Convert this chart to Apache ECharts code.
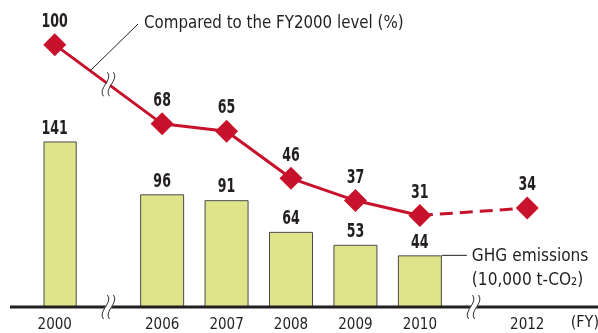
<!DOCTYPE html>
<html>
<head>
<meta charset="utf-8">
<script src="https://cdn.jsdelivr.net/npm/echarts@6/dist/echarts.min.js"></script>
<style>
  html, body { margin: 0; padding: 0; background: #fff; }
  #chart { width: 598px; height: 333px; }
</style>
</head>
<body>
<div id="chart"></div>
<script>
// Fiscal years and values
const years = ['2000', '2006', '2007', '2008', '2009', '2010', '2012'];
const ghgEmissions = [141, 96, 91, 64, 53, 44, null];      // 10,000 t-CO2
const ratioActual = [100, 68, 65, 46, 37, 31, null];       // % of FY2000
const ratioTarget = [null, null, null, null, null, 31, 34]; // % of FY2000 (plan)

// Horizontal layout: each year sits on a slot; the breaks take wider gaps
const yearSlots = [0, 5, 8, 11, 14, 17, 22];
const slotCount = 23;

const FONT = "'Liberation Sans Narrow','DejaVu Sans Condensed',sans-serif";
const INK = '#231f20';
const RED = '#c8122c';
const BAR = '#dfe48b';

function spread(values) {
  const out = new Array(slotCount).fill(null);
  values.forEach((v, i) => { out[yearSlots[i]] = v; });
  return out;
}
function pairs(values) {
  const out = [];
  values.forEach((v, i) => { if (v !== null) out.push([yearSlots[i], v]); });
  return out;
}

const categories = spread(years).map(v => v === null ? '' : v);
const barData = spread(ghgEmissions);
const actualData = spread(ratioActual);
const targetData = spread(ratioTarget).map((v, s) =>
  // 2010 is already marked by the actual series
  (v !== null && s === yearSlots[5]) ? { value: v, symbol: 'none' } : v
);

// Value labels are drawn in a narrowed bold face
function valueLabels(dy) {
  return function (params, api) {
    const v = api.value(1);
    const pt = api.coord([api.value(0), v]);
    return {
      type: 'text',
      x: pt[0],
      y: pt[1] + dy,
      scaleX: 0.7,
      style: {
        text: String(v),
        fontFamily: FONT,
        fontWeight: 'bold',
        fontSize: 20,
        fill: INK,
        align: 'center',
        verticalAlign: 'middle'
      }
    };
  };
}

const chart = echarts.init(document.getElementById('chart'), null, { renderer: 'canvas' });

chart.setOption({
  animation: false,
  backgroundColor: '#fff',
  grid: { left: 44, right: 60, top: 10, bottom: 23 },
  xAxis: {
    type: 'category',
    data: categories,
    boundaryGap: true,
    axisLine: { show: false },
    axisTick: { show: false },
    axisLabel: {
      interval: 0,
      margin: 11,
      fontFamily: FONT,
      fontSize: 15,
      color: INK
    }
  },
  yAxis: [
    { type: 'value', min: 0, max: 253, show: false, splitLine: { show: false } },
    { type: 'value', min: -6, max: 114, show: false, splitLine: { show: false } }
  ],
  series: [
    {
      name: 'GHG emissions',
      type: 'bar',
      yAxisIndex: 0,
      data: barData,
      barWidth: 44,
      itemStyle: { color: BAR, borderColor: '#4a4a4a', borderWidth: 1 },
      z: 2
    },
    {
      name: 'Compared to the FY2000 level',
      type: 'line',
      yAxisIndex: 1,
      data: actualData,
      connectNulls: true,
      symbol: 'diamond',
      symbolSize: 23,
      showAllSymbol: true,
      lineStyle: { color: RED, width: 3 },
      itemStyle: { color: RED },
      z: 4
    },
    {
      name: 'Compared to the FY2000 level (plan)',
      type: 'line',
      yAxisIndex: 1,
      data: targetData,
      connectNulls: true,
      symbol: 'diamond',
      symbolSize: 23,
      showAllSymbol: true,
      lineStyle: { color: RED, width: 3, type: [13, 7] },
      itemStyle: { color: RED },
      z: 3
    },
    {
      name: 'GHG emissions labels',
      type: 'custom',
      yAxisIndex: 0,
      data: pairs(ghgEmissions),
      renderItem: valueLabels(-13),
      clip: false,
      silent: true,
      z: 5
    },
    {
      name: 'Ratio labels',
      type: 'custom',
      yAxisIndex: 1,
      data: pairs(ratioActual).concat(pairs(ratioTarget).slice(1)),
      renderItem: valueLabels(-23),
      clip: false,
      silent: true,
      z: 5
    }
  ]
});

// Decorations: baseline, axis breaks, leader lines and captions
function px(seriesIndex, slot, value) {
  return chart.convertToPixel({ seriesIndex: seriesIndex }, [slot, value]);
}

function breakMark(x, y, h, band) {
  const half = h / 2;
  const wave = (cx, stroke, width) => ({
    type: 'bezierCurve',
    shape: {
      x1: cx + 2, y1: y - half,
      cpx1: cx + 8, cpy1: y - half / 3,
      cpx2: cx - 8, cpy2: y + half / 3,
      x2: cx - 2, y2: y + half
    },
    style: { stroke: stroke, lineWidth: width, fill: null },
    z: 100
  });
  return [wave(x, '#fff', band), wave(x - 3, '#333', 1), wave(x + 3, '#333', 1)];
}

const baseY = px(0, 0, 0)[1];
const p2000 = px(1, yearSlots[0], ratioActual[0]);
const p2006 = px(1, yearSlots[1], ratioActual[1]);
const bar2010 = px(0, yearSlots[5], ghgEmissions[5]);
const x2010 = bar2010[0];
const x2012 = px(0, yearSlots[6], 0)[0];

const leftBreakX = (p2000[0] + p2006[0]) / 2;
const rightBreakX = (x2010 + x2012) / 2;
const lineBreakY = (p2000[1] + p2006[1]) / 2;

const t = 0.33;
const leaderEnd = [p2000[0] + (p2006[0] - p2000[0]) * t, p2000[1] + (p2006[1] - p2000[1]) * t];
const titlePos = [144, 23];

const textStyle = (extra) => Object.assign({
  fontFamily: FONT, fontSize: 18, fill: INK
}, extra);

const graphics = [
  {
    type: 'line',
    shape: { x1: 10, y1: baseY, x2: 598, y2: baseY },
    style: { stroke: INK, lineWidth: 3 },
    z: 90
  },
  ...breakMark(leftBreakX, baseY, 24, 6),
  ...breakMark(rightBreakX, baseY, 24, 6),
  ...breakMark(leftBreakX, lineBreakY, 24, 4),
  {
    type: 'line',
    shape: { x1: titlePos[0] - 6, y1: titlePos[1] + 1, x2: leaderEnd[0], y2: leaderEnd[1] },
    style: { stroke: '#222', lineWidth: 1 },
    z: 100
  },
  {
    type: 'text',
    x: titlePos[0], y: titlePos[1],
    scaleX: 0.93,
    style: textStyle({ text: 'Compared to the FY2000 level (%)', verticalAlign: 'middle' }),
    z: 100
  },
  {
    type: 'line',
    shape: { x1: x2010 + 22, y1: bar2010[1], x2: x2010 + 47, y2: bar2010[1] },
    style: { stroke: '#222', lineWidth: 1 },
    z: 100
  },
  {
    type: 'text',
    x: x2010 + 52, y: bar2010[1] + 1,
    scaleX: 0.95,
    style: textStyle({ text: 'GHG emissions', verticalAlign: 'middle' }),
    z: 100
  },
  {
    type: 'text',
    x: x2010 + 52, y: bar2010[1] + 25,
    scaleX: 0.95,
    style: textStyle({ text: '(10,000 t-CO₂)', verticalAlign: 'middle' }),
    z: 100
  },
  {
    type: 'text',
    x: 599, y: baseY + 16,
    style: textStyle({ text: '(FY)', fontSize: 16, align: 'right', verticalAlign: 'middle' }),
    z: 100
  }
];

chart.setOption({ graphic: graphics });
</script>
</body>
</html>
